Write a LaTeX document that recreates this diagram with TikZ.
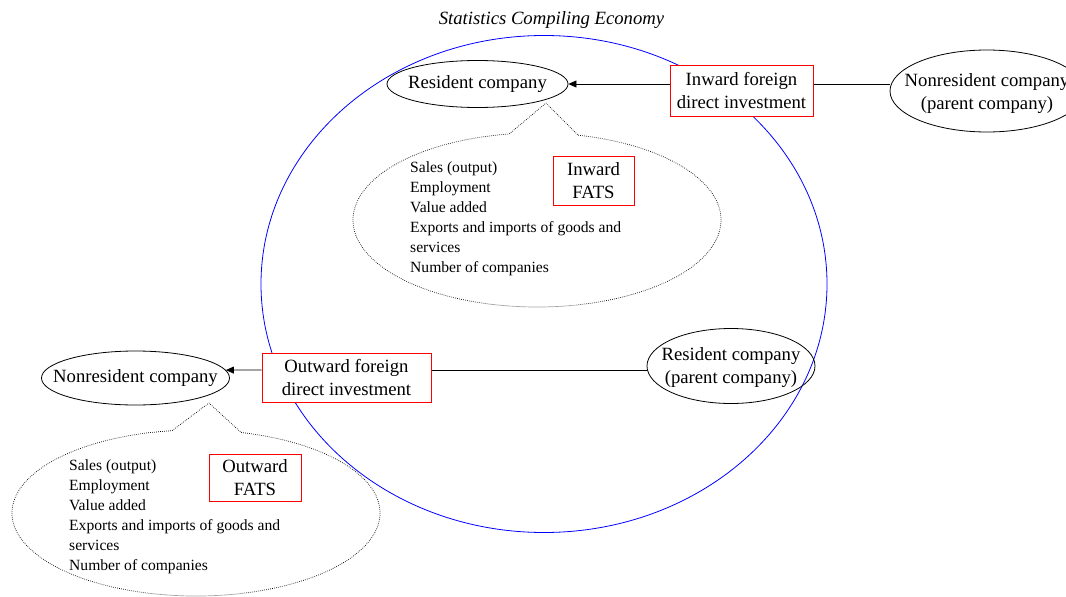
\documentclass[tikz,border=0pt]{standalone}
\usepackage{fontspec}
\setmainfont{Liberation Serif}
\usetikzlibrary{arrows.meta,shapes.geometric,calc}
\newcommand\LblFont{\fontsize{18.7}{23}\selectfont}
\newcommand\LstFont{\fontsize{15.6}{20}\selectfont}
\tikzset{
  ell/.style={draw, ellipse, inner sep=0pt, line width=0.8pt},
  lbl/.style={inner sep=0pt, font=\LblFont, align=center},
  rbox/.style={draw=red, fill=white, line width=1pt, inner sep=0pt, font=\LblFont, align=center},
  conn/.style={line width=0.8pt},
  arr/.style={conn, -{Triangle[length=8pt,width=7pt]}},
  calloutline/.style={line width=0.7pt, dash pattern=on 0.7pt off 1.3pt},
  lst/.style={font=\LstFont, align=left, anchor=base west, inner sep=0pt}
}
\begin{document}
\begin{tikzpicture}[x=1pt,y=-1pt]
\useasboundingbox (0,0) rectangle (1066,597);
\clip (0,0) rectangle (1066,597);
% statistics compiling economy
\node[draw=blue, ellipse, line width=0.8pt, minimum width=566pt, minimum height=497pt, inner sep=0pt] (sce) at (544,284) {};
\node[font=\itshape\LblFont, inner sep=0pt] (title) at (551.5,20) {Statistics Compiling Economy};

% top callout
\coordinate (tc) at (537,220);
\coordinate (tipA) at (546,103);
\draw[calloutline] ([shift={(-77.1:184 and 87)}]tc) arc[start angle=-77.1, end angle=261.3, x radius=184, y radius=87] -- (tipA) -- cycle;

% bottom callout
\coordinate (bc) at (196,513);
\coordinate (tipB) at (209,403);
\draw[calloutline] ([shift={(-75.8:184 and 83)}]bc) arc[start angle=-75.8, end angle=262.5, x radius=184, y radius=83] -- (tipB) -- cycle;

% inward
\node[ell, fill=white, minimum width=181pt, minimum height=47pt] (rc) at (477.5,84) {};
\node[lbl] (rct) at (rc) {Resident company};
\node[rbox, minimum width=143pt, minimum height=51pt] (ibox) at (741.5,90.5) {Inward foreign\\direct investment};
\node[ell, fill=white, minimum width=194pt, minimum height=82pt] (nrp) at (987,91) {};
\node[lbl] (nrpt) at (987,94) {Nonresident company\\(parent company)};
\coordinate (ly1) at (0,84);
\draw[conn] (nrp.west |- ly1) -- (ibox.east |- ly1);
\draw[arr] (ibox.west |- ly1) -- (rc.east);
\node[rbox, minimum width=81pt, minimum height=49pt] (ifats) at (593.5,180.5) {Inward\\FATS};
\node[lst] (ilist) at (410,272) {Sales (output)\\Employment\\Value added\\Exports and imports of goods and\\services\\Number of companies};

% outward
\node[rbox, minimum width=169pt, minimum height=49pt] (obox) at (346.5,377.5) {Outward foreign\\direct investment};
\node[ell, minimum width=168pt, minimum height=75pt] (rp) at (731,366) {};
\node[lbl] (rpt) at (731,368) {Resident company\\(parent company)};
\node[ell, fill=white, minimum width=188pt, minimum height=54pt] (nr) at (135.5,378) {};
\node[lbl] (nrt) at (nr) {Nonresident company};
\coordinate (ly2) at (0,370);
\draw[conn] (rp.west |- ly2) -- (obox.east |- ly2);
\draw[arr] (obox.west |- ly2) -- (nr.5);
\node[rbox, minimum width=92pt, minimum height=47pt] (ofats) at (255,477.5) {Outward\\FATS};
\node[lst] (olist) at (69,570) {Sales (output)\\Employment\\Value added\\Exports and imports of goods and\\services\\Number of companies};
\end{tikzpicture}
\end{document}
